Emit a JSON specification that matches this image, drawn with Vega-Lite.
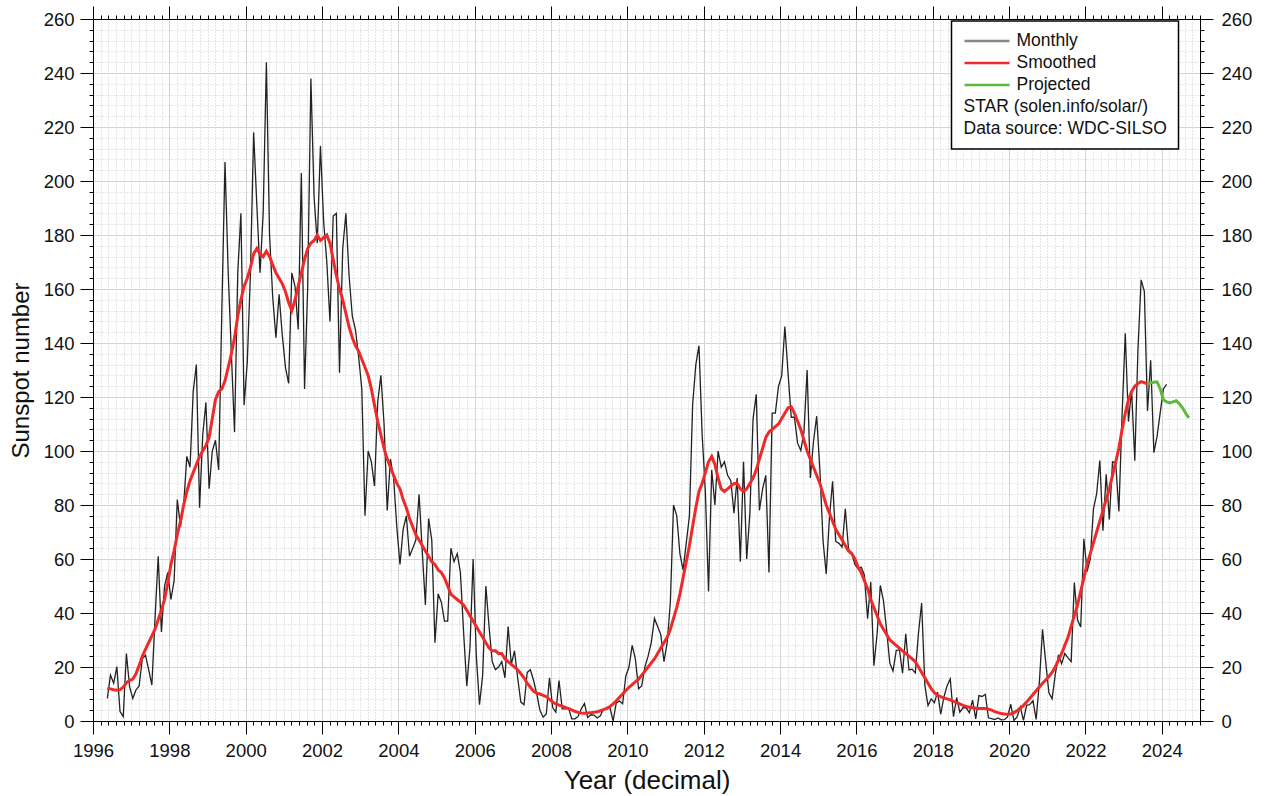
{
"$schema": "https://vega.github.io/schema/vega-lite/v6.json",
"width": 1107, "height": 702,
"autosize": {"type": "none"},
"padding": {"left": 93, "top": 19, "right": 65, "bottom": 75},
"background": "white",
"config": {"view": {"stroke": null}, "font": "Liberation Sans",
 "axis": {"labelFont": "Liberation Sans", "titleFont": "Liberation Sans", "domainColor": "#000", "tickColor": "#000", "labelColor": "#111", "titleColor": "#111", "titleFontWeight": "normal", "labelOverlap": false, "labelFlush": false, "labelBound": false}},
"datasets": {
"monthly": [
{"t":1996.375,"v":8.4},{"t":1996.458,"v":17},{"t":1996.542,"v":14},{"t":1996.625,"v":20.1},{"t":1996.708,"v":3.5},{"t":1996.792,"v":1.6},{"t":1996.875,"v":25},{"t":1996.958,"v":12.7},
{"t":1997.042,"v":8.4},{"t":1997.125,"v":11.5},{"t":1997.208,"v":13},{"t":1997.292,"v":23},{"t":1997.375,"v":24.4},{"t":1997.458,"v":19},{"t":1997.542,"v":13.3},{"t":1997.625,"v":38},{"t":1997.708,"v":61},{"t":1997.792,"v":33},{"t":1997.875,"v":50},{"t":1997.958,"v":55},
{"t":1998.042,"v":45},{"t":1998.125,"v":52},{"t":1998.208,"v":82},{"t":1998.292,"v":72},{"t":1998.375,"v":80},{"t":1998.458,"v":98},{"t":1998.542,"v":94},{"t":1998.625,"v":122},{"t":1998.708,"v":132},{"t":1998.792,"v":79},{"t":1998.875,"v":106},{"t":1998.958,"v":118},
{"t":1999.042,"v":86},{"t":1999.125,"v":100},{"t":1999.208,"v":104},{"t":1999.292,"v":93},{"t":1999.375,"v":152},{"t":1999.458,"v":207},{"t":1999.542,"v":166},{"t":1999.625,"v":136},{"t":1999.708,"v":107},{"t":1999.792,"v":166},{"t":1999.875,"v":188},{"t":1999.958,"v":117},
{"t":2000.042,"v":133},{"t":2000.125,"v":166},{"t":2000.208,"v":218},{"t":2000.292,"v":191},{"t":2000.375,"v":166},{"t":2000.458,"v":188},{"t":2000.542,"v":244},{"t":2000.625,"v":180},{"t":2000.708,"v":157},{"t":2000.792,"v":142},{"t":2000.875,"v":158},{"t":2000.958,"v":143},
{"t":2001.042,"v":131},{"t":2001.125,"v":125},{"t":2001.208,"v":166},{"t":2001.292,"v":161},{"t":2001.375,"v":145},{"t":2001.458,"v":203},{"t":2001.542,"v":123},{"t":2001.625,"v":161},{"t":2001.708,"v":238},{"t":2001.792,"v":194},{"t":2001.875,"v":177},{"t":2001.958,"v":213},
{"t":2002.042,"v":185},{"t":2002.125,"v":170},{"t":2002.208,"v":148},{"t":2002.292,"v":187},{"t":2002.375,"v":188},{"t":2002.458,"v":129},{"t":2002.542,"v":175},{"t":2002.625,"v":188},{"t":2002.708,"v":165},{"t":2002.792,"v":150},{"t":2002.875,"v":145},{"t":2002.958,"v":135},
{"t":2003.042,"v":123},{"t":2003.125,"v":76},{"t":2003.208,"v":100},{"t":2003.292,"v":96},{"t":2003.375,"v":87},{"t":2003.458,"v":118},{"t":2003.542,"v":128},{"t":2003.625,"v":110},{"t":2003.708,"v":78},{"t":2003.792,"v":97},{"t":2003.875,"v":90},{"t":2003.958,"v":72},
{"t":2004.042,"v":58},{"t":2004.125,"v":71},{"t":2004.208,"v":76},{"t":2004.292,"v":61},{"t":2004.375,"v":64},{"t":2004.458,"v":67},{"t":2004.542,"v":84},{"t":2004.625,"v":63},{"t":2004.708,"v":43},{"t":2004.792,"v":75},{"t":2004.875,"v":67},{"t":2004.958,"v":29},
{"t":2005.042,"v":47},{"t":2005.125,"v":44},{"t":2005.208,"v":37},{"t":2005.292,"v":37},{"t":2005.375,"v":64},{"t":2005.458,"v":59},{"t":2005.542,"v":62},{"t":2005.625,"v":55},{"t":2005.708,"v":33},{"t":2005.792,"v":13},{"t":2005.875,"v":27},{"t":2005.958,"v":60},
{"t":2006.042,"v":24},{"t":2006.125,"v":6},{"t":2006.208,"v":17},{"t":2006.292,"v":50},{"t":2006.375,"v":35},{"t":2006.458,"v":22},{"t":2006.542,"v":19},{"t":2006.625,"v":20},{"t":2006.708,"v":22},{"t":2006.792,"v":16},{"t":2006.875,"v":35},{"t":2006.958,"v":21},
{"t":2007.042,"v":26},{"t":2007.125,"v":16},{"t":2007.208,"v":7},{"t":2007.292,"v":6},{"t":2007.375,"v":18},{"t":2007.458,"v":19},{"t":2007.542,"v":15},{"t":2007.625,"v":10},{"t":2007.708,"v":4},{"t":2007.792,"v":1.4},{"t":2007.875,"v":2.6},{"t":2007.958,"v":16},
{"t":2008.042,"v":5},{"t":2008.125,"v":3.3},{"t":2008.208,"v":15},{"t":2008.292,"v":4.5},{"t":2008.375,"v":4.5},{"t":2008.458,"v":4.8},{"t":2008.542,"v":0.8},{"t":2008.625,"v":0.8},{"t":2008.708,"v":1.7},{"t":2008.792,"v":4.5},{"t":2008.875,"v":6.5},{"t":2008.958,"v":1.3},
{"t":2009.042,"v":2.3},{"t":2009.125,"v":2.2},{"t":2009.208,"v":1.1},{"t":2009.292,"v":1.9},{"t":2009.375,"v":4.5},{"t":2009.458,"v":4.5},{"t":2009.542,"v":5},{"t":2009.625,"v":0},{"t":2009.708,"v":6.7},{"t":2009.792,"v":7.4},{"t":2009.875,"v":6.4},{"t":2009.958,"v":16.7},
{"t":2010.042,"v":20},{"t":2010.125,"v":28},{"t":2010.208,"v":23},{"t":2010.292,"v":12},{"t":2010.375,"v":13},{"t":2010.458,"v":20},{"t":2010.542,"v":24},{"t":2010.625,"v":29},{"t":2010.708,"v":38},{"t":2010.792,"v":35},{"t":2010.875,"v":32},{"t":2010.958,"v":22},
{"t":2011.042,"v":29},{"t":2011.125,"v":44},{"t":2011.208,"v":80},{"t":2011.292,"v":76},{"t":2011.375,"v":62},{"t":2011.458,"v":56},{"t":2011.542,"v":66},{"t":2011.625,"v":76},{"t":2011.708,"v":117},{"t":2011.792,"v":132},{"t":2011.875,"v":139},{"t":2011.958,"v":106},
{"t":2012.042,"v":85},{"t":2012.125,"v":48},{"t":2012.208,"v":93},{"t":2012.292,"v":80},{"t":2012.375,"v":100},{"t":2012.458,"v":94},{"t":2012.542,"v":96},{"t":2012.625,"v":91},{"t":2012.708,"v":89},{"t":2012.792,"v":77},{"t":2012.875,"v":90},{"t":2012.958,"v":59},
{"t":2013.042,"v":96},{"t":2013.125,"v":60},{"t":2013.208,"v":77},{"t":2013.292,"v":112},{"t":2013.375,"v":121},{"t":2013.458,"v":78},{"t":2013.542,"v":86},{"t":2013.625,"v":91},{"t":2013.708,"v":55},{"t":2013.792,"v":114},{"t":2013.875,"v":114},{"t":2013.958,"v":124},
{"t":2014.042,"v":127.8},{"t":2014.125,"v":146.1},{"t":2014.208,"v":128.8},{"t":2014.292,"v":112.5},{"t":2014.375,"v":112.5},{"t":2014.458,"v":102.9},{"t":2014.542,"v":100.2},{"t":2014.625,"v":106.9},{"t":2014.708,"v":130},{"t":2014.792,"v":90},{"t":2014.875,"v":103.6},{"t":2014.958,"v":112.9},
{"t":2015.042,"v":93},{"t":2015.125,"v":66.7},{"t":2015.208,"v":54.5},{"t":2015.292,"v":75.3},{"t":2015.375,"v":88.8},{"t":2015.458,"v":66.5},{"t":2015.542,"v":65.8},{"t":2015.625,"v":64.4},{"t":2015.708,"v":78.6},{"t":2015.792,"v":63.6},{"t":2015.875,"v":62.2},{"t":2015.958,"v":58},
{"t":2016.042,"v":56.4},{"t":2016.125,"v":57},{"t":2016.208,"v":54.1},{"t":2016.292,"v":37.9},{"t":2016.375,"v":51.5},{"t":2016.458,"v":20.5},{"t":2016.542,"v":32.4},{"t":2016.625,"v":50.2},{"t":2016.708,"v":44.6},{"t":2016.792,"v":33.4},{"t":2016.875,"v":21.4},{"t":2016.958,"v":18.5},
{"t":2017.042,"v":26.1},{"t":2017.125,"v":26.4},{"t":2017.208,"v":17.7},{"t":2017.292,"v":32.3},{"t":2017.375,"v":18.9},{"t":2017.458,"v":19.2},{"t":2017.542,"v":17.8},{"t":2017.625,"v":32.6},{"t":2017.708,"v":43.7},{"t":2017.792,"v":13.2},{"t":2017.875,"v":5.7},{"t":2017.958,"v":8.2},
{"t":2018.042,"v":6.8},{"t":2018.125,"v":10.7},{"t":2018.208,"v":2.5},{"t":2018.292,"v":8.9},{"t":2018.375,"v":13.1},{"t":2018.458,"v":15.6},{"t":2018.542,"v":1.6},{"t":2018.625,"v":8.7},{"t":2018.708,"v":3.3},{"t":2018.792,"v":4.9},{"t":2018.875,"v":4.9},{"t":2018.958,"v":3.1},
{"t":2019.042,"v":7.7},{"t":2019.125,"v":0.8},{"t":2019.208,"v":9.4},{"t":2019.292,"v":9.1},{"t":2019.375,"v":9.9},{"t":2019.458,"v":1.2},{"t":2019.542,"v":0.9},{"t":2019.625,"v":0.5},{"t":2019.708,"v":1.1},{"t":2019.792,"v":0.4},{"t":2019.875,"v":0.5},{"t":2019.958,"v":1.5},
{"t":2020.042,"v":6.2},{"t":2020.125,"v":0.2},{"t":2020.208,"v":1.5},{"t":2020.292,"v":5.2},{"t":2020.375,"v":0.2},{"t":2020.458,"v":5.8},{"t":2020.542,"v":6.1},{"t":2020.625,"v":7.5},{"t":2020.708,"v":0.6},{"t":2020.792,"v":14.4},{"t":2020.875,"v":34},{"t":2020.958,"v":21.8},
{"t":2021.042,"v":10.4},{"t":2021.125,"v":8.2},{"t":2021.208,"v":17.2},{"t":2021.292,"v":24.5},{"t":2021.375,"v":21.2},{"t":2021.458,"v":25},{"t":2021.542,"v":23.4},{"t":2021.625,"v":22},{"t":2021.708,"v":51.3},{"t":2021.792,"v":37.4},{"t":2021.875,"v":34.8},{"t":2021.958,"v":67.5},
{"t":2022.042,"v":55.3},{"t":2022.125,"v":59.9},{"t":2022.208,"v":78.5},{"t":2022.292,"v":84.1},{"t":2022.375,"v":96.5},{"t":2022.458,"v":70.5},{"t":2022.542,"v":91.4},{"t":2022.625,"v":74.6},{"t":2022.708,"v":96},{"t":2022.792,"v":95.5},{"t":2022.875,"v":77.6},{"t":2022.958,"v":113.1},
{"t":2023.042,"v":143.6},{"t":2023.125,"v":110.9},{"t":2023.208,"v":122.6},{"t":2023.292,"v":96.4},{"t":2023.375,"v":137.9},{"t":2023.458,"v":163.4},{"t":2023.542,"v":159.1},{"t":2023.625,"v":114.8},{"t":2023.708,"v":133.6},{"t":2023.792,"v":99.4},{"t":2023.875,"v":105.4},{"t":2023.958,"v":114.2},
{"t":2024.042,"v":123},{"t":2024.125,"v":124.7}
],
"smoothed": [
{"t":1996.375,"v":12.1},{"t":1996.458,"v":11.9},{"t":1996.542,"v":11.6},{"t":1996.625,"v":11.4},{"t":1996.708,"v":11.6},{"t":1996.792,"v":12.5},{"t":1996.875,"v":14.2},{"t":1996.958,"v":15},
{"t":1997.042,"v":15.5},{"t":1997.125,"v":17.5},{"t":1997.208,"v":20.5},{"t":1997.292,"v":24},{"t":1997.375,"v":26.5},{"t":1997.458,"v":29},{"t":1997.542,"v":31.5},{"t":1997.625,"v":34},{"t":1997.708,"v":37.5},{"t":1997.792,"v":41},{"t":1997.875,"v":45},{"t":1997.958,"v":51},
{"t":1998.042,"v":58},{"t":1998.125,"v":63},{"t":1998.208,"v":69},{"t":1998.292,"v":74},{"t":1998.375,"v":80},{"t":1998.458,"v":85},{"t":1998.542,"v":89},{"t":1998.625,"v":92},{"t":1998.708,"v":95},{"t":1998.792,"v":98},{"t":1998.875,"v":100},{"t":1998.958,"v":102},
{"t":1999.042,"v":105},{"t":1999.125,"v":112},{"t":1999.208,"v":119},{"t":1999.292,"v":122},{"t":1999.375,"v":123},{"t":1999.458,"v":126},{"t":1999.542,"v":131},{"t":1999.625,"v":136},{"t":1999.708,"v":142},{"t":1999.792,"v":150},{"t":1999.875,"v":156},{"t":1999.958,"v":161},
{"t":2000.042,"v":164},{"t":2000.125,"v":168},{"t":2000.208,"v":173},{"t":2000.292,"v":175},{"t":2000.375,"v":173},{"t":2000.458,"v":172},{"t":2000.542,"v":174},{"t":2000.625,"v":172},{"t":2000.708,"v":169},{"t":2000.792,"v":166},{"t":2000.875,"v":164},{"t":2000.958,"v":162},
{"t":2001.042,"v":159},{"t":2001.125,"v":155},{"t":2001.208,"v":152},{"t":2001.292,"v":156},{"t":2001.375,"v":161},{"t":2001.458,"v":166},{"t":2001.542,"v":171},{"t":2001.625,"v":175},{"t":2001.708,"v":177},{"t":2001.792,"v":178},{"t":2001.875,"v":180},{"t":2001.958,"v":178},
{"t":2002.042,"v":179},{"t":2002.125,"v":180},{"t":2002.208,"v":177},{"t":2002.292,"v":171},{"t":2002.375,"v":165},{"t":2002.458,"v":160},{"t":2002.542,"v":156},{"t":2002.625,"v":151},{"t":2002.708,"v":146},{"t":2002.792,"v":142},{"t":2002.875,"v":139},{"t":2002.958,"v":137},
{"t":2003.042,"v":134},{"t":2003.125,"v":131},{"t":2003.208,"v":128},{"t":2003.292,"v":123},{"t":2003.375,"v":117},{"t":2003.458,"v":111},{"t":2003.542,"v":106},{"t":2003.625,"v":101},{"t":2003.708,"v":97},{"t":2003.792,"v":94},{"t":2003.875,"v":91},{"t":2003.958,"v":88},
{"t":2004.042,"v":86},{"t":2004.125,"v":82},{"t":2004.208,"v":79},{"t":2004.292,"v":75},{"t":2004.375,"v":72},{"t":2004.458,"v":69},{"t":2004.542,"v":67},{"t":2004.625,"v":65},{"t":2004.708,"v":63},{"t":2004.792,"v":61},{"t":2004.875,"v":59},{"t":2004.958,"v":58},
{"t":2005.042,"v":56},{"t":2005.125,"v":55},{"t":2005.208,"v":53},{"t":2005.292,"v":50},{"t":2005.375,"v":47},{"t":2005.458,"v":46},{"t":2005.542,"v":45},{"t":2005.625,"v":44},{"t":2005.708,"v":43},{"t":2005.792,"v":41},{"t":2005.875,"v":39},{"t":2005.958,"v":37},
{"t":2006.042,"v":35},{"t":2006.125,"v":33},{"t":2006.208,"v":31},{"t":2006.292,"v":29},{"t":2006.375,"v":27},{"t":2006.458,"v":26},{"t":2006.542,"v":26},{"t":2006.625,"v":25},{"t":2006.708,"v":25},{"t":2006.792,"v":23},{"t":2006.875,"v":22},{"t":2006.958,"v":21},
{"t":2007.042,"v":20},{"t":2007.125,"v":19},{"t":2007.208,"v":17.5},{"t":2007.292,"v":16},{"t":2007.375,"v":14},{"t":2007.458,"v":12.5},{"t":2007.542,"v":11},{"t":2007.625,"v":10.3},{"t":2007.708,"v":10},{"t":2007.792,"v":9.5},{"t":2007.875,"v":9},{"t":2007.958,"v":8},
{"t":2008.042,"v":7},{"t":2008.125,"v":6.3},{"t":2008.208,"v":5.9},{"t":2008.292,"v":5.5},{"t":2008.375,"v":5},{"t":2008.458,"v":4.6},{"t":2008.542,"v":4.1},{"t":2008.625,"v":3.6},{"t":2008.708,"v":3.2},{"t":2008.792,"v":3},{"t":2008.875,"v":2.9},{"t":2008.958,"v":3},
{"t":2009.042,"v":3.1},{"t":2009.125,"v":3.2},{"t":2009.208,"v":3.4},{"t":2009.292,"v":3.8},{"t":2009.375,"v":4.2},{"t":2009.458,"v":4.7},{"t":2009.542,"v":5.3},{"t":2009.625,"v":6.3},{"t":2009.708,"v":7.5},{"t":2009.792,"v":8.8},{"t":2009.875,"v":10},{"t":2009.958,"v":11.3},
{"t":2010.042,"v":12.5},{"t":2010.125,"v":13.5},{"t":2010.208,"v":14.5},{"t":2010.292,"v":15.5},{"t":2010.375,"v":17},{"t":2010.458,"v":18.5},{"t":2010.542,"v":20},{"t":2010.625,"v":21.5},{"t":2010.708,"v":23},{"t":2010.792,"v":25},{"t":2010.875,"v":27},{"t":2010.958,"v":29},
{"t":2011.042,"v":31},{"t":2011.125,"v":34},{"t":2011.208,"v":38},{"t":2011.292,"v":42},{"t":2011.375,"v":47},{"t":2011.458,"v":53},{"t":2011.542,"v":59},{"t":2011.625,"v":65},{"t":2011.708,"v":72},{"t":2011.792,"v":79},{"t":2011.875,"v":85},{"t":2011.958,"v":88},
{"t":2012.042,"v":92},{"t":2012.125,"v":96},{"t":2012.208,"v":98},{"t":2012.292,"v":95},{"t":2012.375,"v":90},{"t":2012.458,"v":86},{"t":2012.542,"v":85},{"t":2012.625,"v":86},{"t":2012.708,"v":87},{"t":2012.792,"v":88},{"t":2012.875,"v":88},{"t":2012.958,"v":86},
{"t":2013.042,"v":85},{"t":2013.125,"v":86},{"t":2013.208,"v":88},{"t":2013.292,"v":90},{"t":2013.375,"v":93},{"t":2013.458,"v":97},{"t":2013.542,"v":101},{"t":2013.625,"v":105},{"t":2013.708,"v":107},{"t":2013.792,"v":108},{"t":2013.875,"v":109},{"t":2013.958,"v":110},
{"t":2014.042,"v":112},{"t":2014.125,"v":114},{"t":2014.208,"v":116},{"t":2014.292,"v":116.4},{"t":2014.375,"v":114},{"t":2014.458,"v":111},{"t":2014.542,"v":108},{"t":2014.625,"v":104},{"t":2014.708,"v":100},{"t":2014.792,"v":97},{"t":2014.875,"v":94},{"t":2014.958,"v":91},
{"t":2015.042,"v":88},{"t":2015.125,"v":84},{"t":2015.208,"v":80},{"t":2015.292,"v":77},{"t":2015.375,"v":74},{"t":2015.458,"v":71},{"t":2015.542,"v":69},{"t":2015.625,"v":67},{"t":2015.708,"v":65},{"t":2015.792,"v":63},{"t":2015.875,"v":62},{"t":2015.958,"v":60},
{"t":2016.042,"v":57},{"t":2016.125,"v":55},{"t":2016.208,"v":52},{"t":2016.292,"v":49},{"t":2016.375,"v":45},{"t":2016.458,"v":42},{"t":2016.542,"v":39},{"t":2016.625,"v":36},{"t":2016.708,"v":34},{"t":2016.792,"v":32},{"t":2016.875,"v":30},{"t":2016.958,"v":29},
{"t":2017.042,"v":28},{"t":2017.125,"v":27},{"t":2017.208,"v":26},{"t":2017.292,"v":25},{"t":2017.375,"v":24},{"t":2017.458,"v":23},{"t":2017.542,"v":22},{"t":2017.625,"v":20},{"t":2017.708,"v":18},{"t":2017.792,"v":16},{"t":2017.875,"v":14},{"t":2017.958,"v":12},
{"t":2018.042,"v":10.5},{"t":2018.125,"v":9.5},{"t":2018.208,"v":9},{"t":2018.292,"v":8.5},{"t":2018.375,"v":8.2},{"t":2018.458,"v":7.8},{"t":2018.542,"v":7.3},{"t":2018.625,"v":6.8},{"t":2018.708,"v":6.3},{"t":2018.792,"v":5.8},{"t":2018.875,"v":5.4},{"t":2018.958,"v":5.1},
{"t":2019.042,"v":4.9},{"t":2019.125,"v":4.7},{"t":2019.208,"v":4.6},{"t":2019.292,"v":4.6},{"t":2019.375,"v":4.6},{"t":2019.458,"v":4.4},{"t":2019.542,"v":4},{"t":2019.625,"v":3.5},{"t":2019.708,"v":3.1},{"t":2019.792,"v":2.8},{"t":2019.875,"v":2.6},{"t":2019.958,"v":2.5},
{"t":2020.042,"v":2.6},{"t":2020.125,"v":3.1},{"t":2020.208,"v":3.8},{"t":2020.292,"v":4.7},{"t":2020.375,"v":5.8},{"t":2020.458,"v":7},{"t":2020.542,"v":8.4},{"t":2020.625,"v":9.8},{"t":2020.708,"v":11.2},{"t":2020.792,"v":12.6},{"t":2020.875,"v":14},{"t":2020.958,"v":15.2},
{"t":2021.042,"v":16.5},{"t":2021.125,"v":18},{"t":2021.208,"v":20},{"t":2021.292,"v":22.5},{"t":2021.375,"v":25},{"t":2021.458,"v":28},{"t":2021.542,"v":31},{"t":2021.625,"v":35},{"t":2021.708,"v":39},{"t":2021.792,"v":43},{"t":2021.875,"v":48},{"t":2021.958,"v":53},
{"t":2022.042,"v":58},{"t":2022.125,"v":62},{"t":2022.208,"v":66},{"t":2022.292,"v":70},{"t":2022.375,"v":74},{"t":2022.458,"v":78},{"t":2022.542,"v":82},{"t":2022.625,"v":86},{"t":2022.708,"v":91},{"t":2022.792,"v":96},{"t":2022.875,"v":101},{"t":2022.958,"v":108},
{"t":2023.042,"v":114},{"t":2023.125,"v":119},{"t":2023.208,"v":122},{"t":2023.292,"v":124},{"t":2023.375,"v":125},{"t":2023.458,"v":125.7},{"t":2023.542,"v":125.3},{"t":2023.625,"v":124.8}
],
"projected": [
{"t":2023.625,"v":124.8},{"t":2023.708,"v":125.3},{"t":2023.792,"v":125.5},{"t":2023.875,"v":125.6},{"t":2023.958,"v":123},{"t":2024.042,"v":119},{"t":2024.125,"v":118.2},{"t":2024.208,"v":117.8},{"t":2024.292,"v":118.2},{"t":2024.375,"v":118.6},{"t":2024.458,"v":117.5},{"t":2024.542,"v":116},{"t":2024.625,"v":114},{"t":2024.708,"v":112.3}
]
},
"resolve": {"axis": {"x": "independent", "y": "independent"}},
"layer": [
{
 "data": {"name": "monthly"},
 "mark": {"type": "line", "strokeWidth": 1.3, "clip": true},
 "encoding": {
  "x": {"field": "t", "type": "quantitative",
   "scale": {"domain": [1996, 2025], "nice": false, "zero": false},
   "axis": {"orient": "bottom", "tickCount": 1000, "tickMinStep": 0.01,
    "values": [1996,1996.2,1996.4,1996.6,1996.8,1997,1997.2,1997.4,1997.6,1997.8,1998,1998.2,1998.4,1998.6,1998.8,1999,1999.2,1999.4,1999.6,1999.8,2000,2000.2,2000.4,2000.6,2000.8,2001,2001.2,2001.4,2001.6,2001.8,2002,2002.2,2002.4,2002.6,2002.8,2003,2003.2,2003.4,2003.6,2003.8,2004,2004.2,2004.4,2004.6,2004.8,2005,2005.2,2005.4,2005.6,2005.8,2006,2006.2,2006.4,2006.6,2006.8,2007,2007.2,2007.4,2007.6,2007.8,2008,2008.2,2008.4,2008.6,2008.8,2009,2009.2,2009.4,2009.6,2009.8,2010,2010.2,2010.4,2010.6,2010.8,2011,2011.2,2011.4,2011.6,2011.8,2012,2012.2,2012.4,2012.6,2012.8,2013,2013.2,2013.4,2013.6,2013.8,2014,2014.2,2014.4,2014.6,2014.8,2015,2015.2,2015.4,2015.6,2015.8,2016,2016.2,2016.4,2016.6,2016.8,2017,2017.2,2017.4,2017.6,2017.8,2018,2018.2,2018.4,2018.6,2018.8,2019,2019.2,2019.4,2019.6,2019.8,2020,2020.2,2020.4,2020.6,2020.8,2021,2021.2,2021.4,2021.6,2021.8,2022,2022.2,2022.4,2022.6,2022.8,2023,2023.2,2023.4,2023.6,2023.8,2024,2024.2,2024.4,2024.6,2024.8,2025],
    "labelExpr": "abs(datum.value/2 - round(datum.value/2)) < 0.001 ? toString(round(datum.value)) : ''",
    "labelOverlap": false, "labelFlush": false, "labelBound": false,
    "labelFontSize": 18.5, "labelPadding": 7,
    "tickSize": {"condition": {"test": "abs(datum.value/2 - round(datum.value/2)) < 0.001", "value": 13}, "value": 4},
    "grid": true,
    "gridColor": {"condition": {"test": "abs(datum.value/2 - round(datum.value/2)) < 0.001", "value": "#d4d4d4"}, "value": "#cccccc"},
    "gridDash": {"condition": {"test": "abs(datum.value/2 - round(datum.value/2)) < 0.001", "value": []}, "value": [1, 2]},
    "title": "Year (decimal)", "titleFontSize": 26, "titlePadding": 8}},
  "y": {"field": "v", "type": "quantitative",
   "scale": {"domain": [0, 260], "nice": false, "zero": true},
   "axis": {"orient": "left", "tickCount": 1000, "tickMinStep": 0.01,
    "values": [0,4,8,12,16,20,24,28,32,36,40,44,48,52,56,60,64,68,72,76,80,84,88,92,96,100,104,108,112,116,120,124,128,132,136,140,144,148,152,156,160,164,168,172,176,180,184,188,192,196,200,204,208,212,216,220,224,228,232,236,240,244,248,252,256,260],
    "labelExpr": "datum.value % 20 === 0 ? toString(round(datum.value)) : ''",
    "labelOverlap": false,
    "labelFontSize": 18.5, "labelPadding": 6,
    "tickSize": {"condition": {"test": "datum.value % 20 === 0", "value": 13}, "value": 4},
    "grid": true,
    "gridColor": {"condition": {"test": "datum.value % 20 === 0", "value": "#d4d4d4"}, "value": "#cccccc"},
    "gridDash": {"condition": {"test": "datum.value % 20 === 0", "value": []}, "value": [1, 2]},
    "title": "Sunspot number", "titleFontSize": 24, "titlePadding": 10}},
  "color": {"datum": "Monthly", "type": "nominal",
   "scale": {"domain": ["Monthly", "Smoothed", "Projected", "STAR (solen.info/solar/)", "Data source: WDC-SILSO"],
             "range": ["#222222", "#ee2a2a", "#5cbb3a", "transparent", "transparent"]},
   "legend": {"orient": "none", "legendX": 858.5, "legendY": 2, "title": null,
    "symbolType": "stroke", "symbolSize": 2025, "symbolStrokeWidth": 2.5,
    "labelFontSize": 17.5, "labelColor": "#111", "labelLimit": 400, "labelOffset": 5.5,
    "clipHeight": 17, "padding": 11.5, "rowPadding": 4, "strokeColor": "#000", "fillColor": "#fff",
    "encode": {
     "labels": {"update": {"dx": {"signal": "indexof(['Monthly','Smoothed','Projected'], datum.label) < 0 ? -53 : 0"}}},
     "symbols": {"update": {"strokeOpacity": {"signal": "datum.label === 'Monthly' ? 0.55 : 1"}}},
     "legend": {"update": {"strokeWidth": {"value": 1.5}}}
    }}}
 }
},
{
 "data": {"name": "smoothed"},
 "mark": {"type": "line", "strokeWidth": 3, "clip": true},
 "encoding": {
  "x": {"field": "t", "type": "quantitative",
   "axis": {"orient": "top", "tickCount": 1000, "tickMinStep": 0.01,
    "values": [1996,1996.2,1996.4,1996.6,1996.8,1997,1997.2,1997.4,1997.6,1997.8,1998,1998.2,1998.4,1998.6,1998.8,1999,1999.2,1999.4,1999.6,1999.8,2000,2000.2,2000.4,2000.6,2000.8,2001,2001.2,2001.4,2001.6,2001.8,2002,2002.2,2002.4,2002.6,2002.8,2003,2003.2,2003.4,2003.6,2003.8,2004,2004.2,2004.4,2004.6,2004.8,2005,2005.2,2005.4,2005.6,2005.8,2006,2006.2,2006.4,2006.6,2006.8,2007,2007.2,2007.4,2007.6,2007.8,2008,2008.2,2008.4,2008.6,2008.8,2009,2009.2,2009.4,2009.6,2009.8,2010,2010.2,2010.4,2010.6,2010.8,2011,2011.2,2011.4,2011.6,2011.8,2012,2012.2,2012.4,2012.6,2012.8,2013,2013.2,2013.4,2013.6,2013.8,2014,2014.2,2014.4,2014.6,2014.8,2015,2015.2,2015.4,2015.6,2015.8,2016,2016.2,2016.4,2016.6,2016.8,2017,2017.2,2017.4,2017.6,2017.8,2018,2018.2,2018.4,2018.6,2018.8,2019,2019.2,2019.4,2019.6,2019.8,2020,2020.2,2020.4,2020.6,2020.8,2021,2021.2,2021.4,2021.6,2021.8,2022,2022.2,2022.4,2022.6,2022.8,2023,2023.2,2023.4,2023.6,2023.8,2024,2024.2,2024.4,2024.6,2024.8,2025],
    "labels": false, "grid": false, "title": null,
    "tickSize": {"condition": {"test": "abs(datum.value/2 - round(datum.value/2)) < 0.001", "value": 13}, "value": 4}}},
  "y": {"field": "v", "type": "quantitative",
   "axis": {"orient": "right", "tickCount": 1000, "tickMinStep": 0.01,
    "values": [0,4,8,12,16,20,24,28,32,36,40,44,48,52,56,60,64,68,72,76,80,84,88,92,96,100,104,108,112,116,120,124,128,132,136,140,144,148,152,156,160,164,168,172,176,180,184,188,192,196,200,204,208,212,216,220,224,228,232,236,240,244,248,252,256,260],
    "labelExpr": "datum.value % 20 === 0 ? toString(round(datum.value)) : ''",
    "labelOverlap": false,
    "labelFontSize": 18.5, "labelPadding": 8, "grid": false, "title": null,
    "tickSize": {"condition": {"test": "datum.value % 20 === 0", "value": 13}, "value": 4}}},
  "color": {"datum": "Smoothed", "type": "nominal"}
 }
},
{
 "data": {"name": "projected"},
 "mark": {"type": "line", "strokeWidth": 3, "clip": true},
 "encoding": {
  "x": {"field": "t", "type": "quantitative", "axis": null},
  "y": {"field": "v", "type": "quantitative", "axis": null},
  "color": {"datum": "Projected", "type": "nominal"}
 }
}
]
}
